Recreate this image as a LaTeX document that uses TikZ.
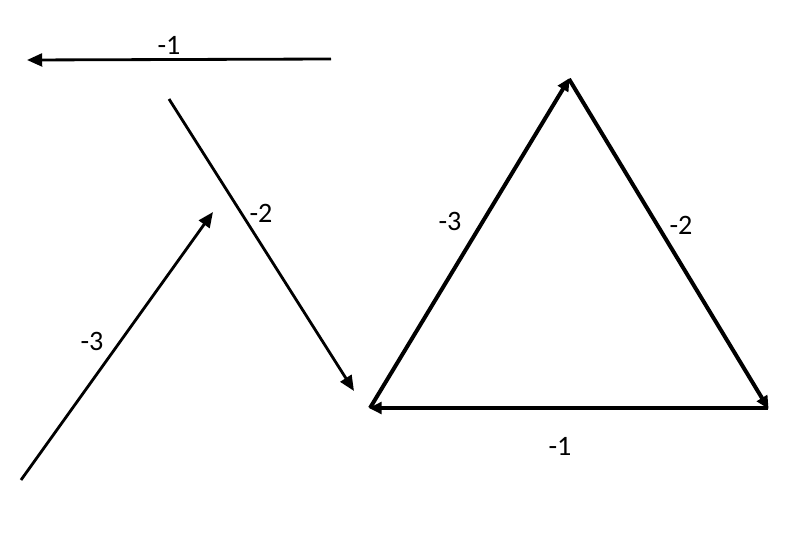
\documentclass[tikz,border=0pt]{standalone}
\usepackage{fontspec}
\setmainfont{Carlito}
\usetikzlibrary{arrows.meta}

\begin{document}
\begin{tikzpicture}[x=0.03cm, y=-0.03cm,
  vec/.style={line width=2.4pt, -{Triangle[length=13pt, width=11pt]}},
  side/.style={line width=3.4pt, -{Triangle[length=11pt, width=10pt]}, shorten >=-1pt},
  lbl/.style={font=\fontsize{24}{28}\selectfont, inner sep=0pt},
]
\useasboundingbox (0,0) rectangle (800,533);

% Loose vectors
\coordinate (a1) at (331,59);  \coordinate (b1) at (27,60);
\coordinate (a2) at (169,99);  \coordinate (b2) at (354,391);
\coordinate (a3) at (21,480);  \coordinate (b3) at (213,212);

\draw[vec] (a1) -- (b1);
\draw[vec] (a2) -- (b2);
\draw[vec] (a3) -- (b3);

\node[lbl] (l1) at (169,45) {-1};
\node[lbl] (l2) at (261,213) {-2};
\node[lbl] (l3) at (92,341) {-3};

% Triangle
\coordinate (tl) at (370,408);
\coordinate (tt) at (569,79);
\coordinate (tr) at (768,408);

\draw[side] (tl) -- (tt);
\draw[side] (tt) -- (tr);
\draw[side] (tr) -- (tl);

\node[lbl] (s3) at (450,221) {-3};
\node[lbl] (s2) at (681,225) {-2};
\node[lbl] (s1) at (560,446) {-1};
\end{tikzpicture}
\end{document}
